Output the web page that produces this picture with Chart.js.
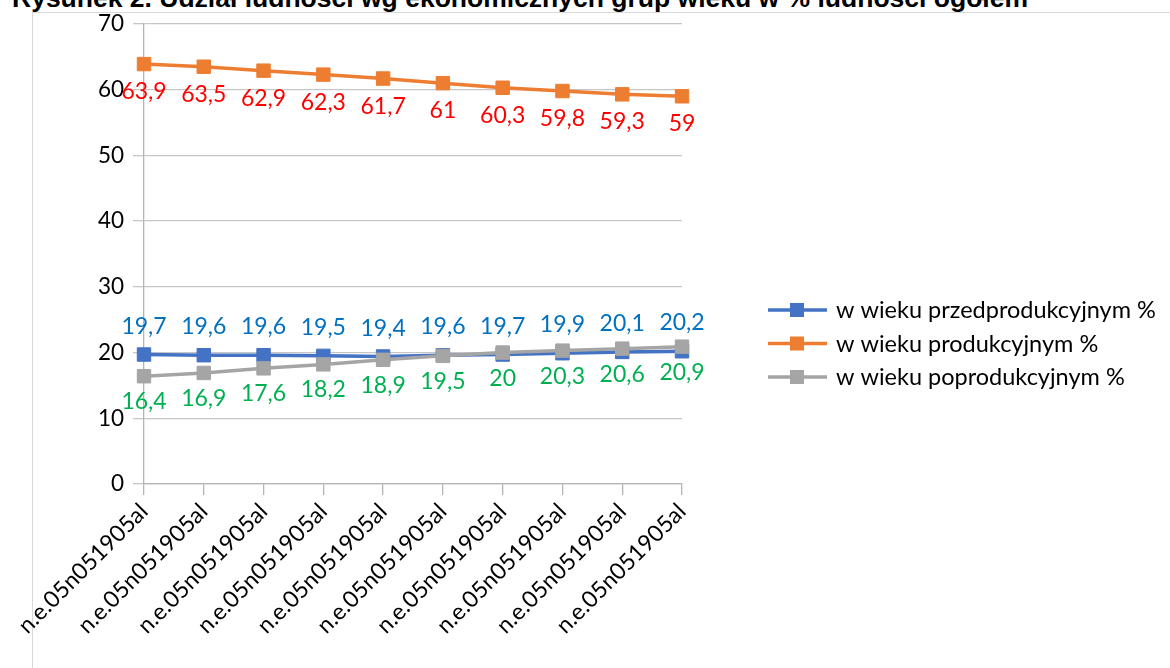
<!DOCTYPE html>
<html><head><meta charset="utf-8">
<script src="https://cdn.jsdelivr.net/npm/chart.js@4.4.0/dist/chart.umd.min.js"></script>
<style>
html,body{margin:0;padding:0;background:#fff;overflow:hidden;}
#wrap{position:relative;width:1170px;height:668px;overflow:hidden;}
#frame{position:absolute;left:32px;top:12px;right:-2px;bottom:-2px;border-left:1px solid #D9D9D9;border-top:1px solid #D9D9D9;}
#title{position:absolute;left:12px;top:-15px;font:bold 26.5px "Liberation Sans",Arial,sans-serif;line-height:1;white-space:nowrap;color:#000;}
canvas{position:absolute;left:0;top:0;}
</style></head>
<body><div id="wrap"><div id="frame"></div><div id="title">Rysunek 2. Udział ludności wg ekonomicznych grup wieku w % ludności ogółem</div><canvas id="c" width="1170" height="668"></canvas></div>
<script>
const categories = ['n.e.05n051905al','n.e.05n051905al','n.e.05n051905al','n.e.05n051905al','n.e.05n051905al','n.e.05n051905al','n.e.05n051905al','n.e.05n051905al','n.e.05n051905al','n.e.05n051905al'];
const przedprodukcyjny = [19.7,19.6,19.6,19.5,19.4,19.6,19.7,19.9,20.1,20.2];
const produkcyjny = [63.9,63.5,62.9,62.3,61.7,61,60.3,59.8,59.3,59];
const poprodukcyjny = [16.4,16.9,17.6,18.2,18.9,19.5,20,20.3,20.6,20.9];
const seriesNames = ['w wieku przedprodukcyjnym %','w wieku produkcyjnym %','w wieku poprodukcyjnym %'];
const yMin = 0, yMax = 70, yStep = 10;

const FONT = 'Lato';
const mk = (label, data, color, labelColor, labelOffset, order) => ({
  label, data, borderColor: color, backgroundColor: color,
  borderWidth: 3.5, pointStyle: 'rect', pointRadius: 9.5, pointHoverRadius: 9.5,
  pointBorderWidth: 1, pointBorderColor: color, pointBackgroundColor: color,
  tension: 0, fill: false, labelColor, labelOffset, order
});

const plugin = {
  id: 'excelLook',
  afterDatasetsDraw(chart) {
    const ctx = chart.ctx;
    chart.data.datasets.forEach((ds, i) => {
      const meta = chart.getDatasetMeta(i);
      ctx.save();
      ctx.font = '23px ' + FONT;
      ctx.fillStyle = ds.labelColor;
      ctx.textAlign = 'center';
      ctx.textBaseline = 'alphabetic';
      meta.data.forEach((pt, j) => {
        ctx.fillText(String(ds.data[j]).replace('.', ','), pt.x, pt.y + ds.labelOffset);
      });
      ctx.restore();
    });
  },
  afterDraw(chart) {
    const ctx = chart.ctx;
    const rows = [310, 343.5, 377];
    chart.data.datasets.forEach((ds, i) => {
      const y = rows[i];
      ctx.save();
      ctx.strokeStyle = ds.borderColor;
      ctx.lineWidth = 3.5;
      ctx.beginPath(); ctx.moveTo(768, y); ctx.lineTo(827, y); ctx.stroke();
      ctx.fillStyle = ds.borderColor;
      ctx.fillRect(797 - 7, y - 7, 14, 14);
      ctx.fillStyle = '#000';
      ctx.font = '23.5px ' + FONT;
      ctx.textBaseline = 'alphabetic';
      ctx.textAlign = 'left';
      ctx.fillText(ds.label, 836, y + 8);
      ctx.restore();
    });
  }
};

new Chart(document.getElementById('c'), {
  type: 'line',
  data: {
    labels: categories,
    datasets: [
      mk(seriesNames[0], przedprodukcyjny, '#4472C4', '#0070C0', -21, 2),
      mk(seriesNames[1], produkcyjny, '#ED7D31', '#FF0000', 35, 1),
      mk(seriesNames[2], poprodukcyjny, '#A5A5A5', '#00B050', 33, 0)
    ]
  },
  options: {
    responsive: false, animation: false, devicePixelRatio: 1,
    layout: { padding: { left: 0, right: 488, top: 24, bottom: 0 } },
    plugins: { legend: { display: false }, tooltip: { enabled: false }, title: { display: false } },
    scales: {
      x: {
        offset: false,
        grid: { display: true, drawOnChartArea: false, drawTicks: true, tickLength: 11, color: '#B4B4B4', lineWidth: 1.3 },
        border: { display: true, color: '#B4B4B4', width: 1.3 },
        ticks: { autoSkip: false, maxRotation: 45, minRotation: 45, padding: 3, color: '#000', font: { family: FONT, size: 23 } },
        afterFit(s) { s.height = 184; }
      },
      y: {
        min: yMin, max: yMax,
        grid: { color: '#C6C6C6', lineWidth: 1.3, tickLength: 11, drawTicks: true },
        border: { display: true, color: '#B4B4B4', width: 1.3 },
        ticks: { stepSize: yStep, padding: 9, color: '#000', font: { family: FONT, size: 22.5 } },
        afterFit(s) { s.width = 144; }
      }
    }
  },
  plugins: [plugin]
});
</script>
</body></html>
